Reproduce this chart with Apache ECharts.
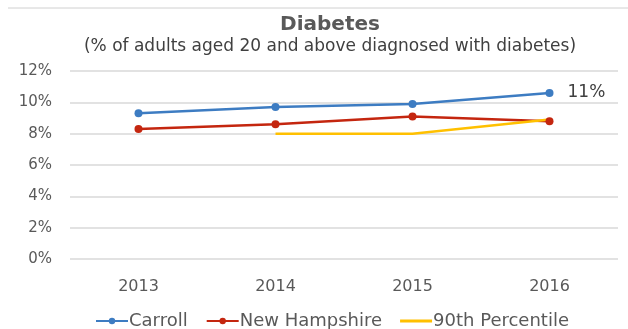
<!DOCTYPE html>
<html>
<head>
<meta charset="utf-8">
<script src="https://cdn.jsdelivr.net/npm/echarts@6/dist/echarts.min.js"></script>
<style>
    html, body { margin: 0; padding: 0; background: #fff; }
    #chart { width: 628px; height: 329px; }
</style>
</head>
<body>
<div id="chart"></div>
<script>
    // 数据
    const years = ['2013', '2014', '2015', '2016']
    const carroll = [9.3, 9.7, 9.9, 10.6]
    const newHampshire = [8.3, 8.6, 9.1, 8.8]
    const percentile90 = [null, 8.0, 8.0, 8.9]
    const yTicks = [0, 2, 4, 6, 8, 10, 12]

    const font = 'DejaVu Sans'
    const chart = echarts.init(document.getElementById('chart'))
    const option = {
        animation: false,
        textStyle: { fontFamily: font },
        title: {
            text: 'Diabetes',
            subtext: '(% of adults aged 20 and above diagnosed with diabetes)',
            left: 325,
            textAlign: 'center',
            top: 10,
            itemGap: 3,
            textStyle: { fontFamily: font, fontSize: 20, fontWeight: 'bold', color: '#595959' },
            subtextStyle: { fontFamily: font, fontSize: 17, color: '#404040' }
        },
        graphic: [
            {
                type: 'line',
                shape: { x1: 8, y1: 8, x2: 628, y2: 8 },
                style: { stroke: '#d0d0d0', lineWidth: 1 }
            }
        ],
        grid: { left: 70, right: 10, top: 71, bottom: 70 },
        legend: {
            bottom: -6,
            left: 90,
            itemWidth: 32,
            itemHeight: 8,
            itemGap: 18,
            textStyle: { fontFamily: font, fontSize: 18, color: '#595959', padding: [0, 0, 0, -4] },
            data: [
                'Carroll',
                'New Hampshire',
                { name: '90th Percentile', icon: 'path://M0,0 L32,0 L32,3 L0,3 Z' }
            ]
        },
        xAxis: {
            type: 'category',
            data: years,
            boundaryGap: true,
            axisLine: { show: false },
            axisTick: { show: false },
            axisLabel: { fontFamily: font, fontSize: 16, color: '#595959', margin: 20 }
        },
        yAxis: {
            type: 'value',
            min: yTicks[0],
            max: yTicks[yTicks.length - 1],
            interval: 2,
            axisLine: { show: false },
            axisTick: { show: false },
            splitLine: { lineStyle: { color: '#d9d9d9', width: 1.5 } },
            axisLabel: { fontFamily: font, fontSize: 15, color: '#595959', margin: 18, formatter: '{value}%' }
        },
        series: [
            {
                name: 'Carroll',
                type: 'line',
                data: carroll,
                symbol: 'circle',
                symbolSize: 8,
                itemStyle: { color: '#3d7cc2' },
                lineStyle: { width: 2.5, color: '#3d7cc2' },
                label: {
                    show: true,
                    position: 'right',
                    distance: 14,
                    fontFamily: font,
                    fontSize: 17,
                    color: '#404040',
                    formatter: p => p.dataIndex === years.length - 1 ? Math.round(p.value) + '%' : ''
                }
            },
            {
                name: 'New Hampshire',
                type: 'line',
                data: newHampshire,
                symbol: 'circle',
                symbolSize: 8,
                itemStyle: { color: '#c4260f' },
                lineStyle: { width: 2.5, color: '#c4260f' }
            },
            {
                name: '90th Percentile',
                type: 'line',
                data: percentile90,
                symbol: 'none',
                itemStyle: { color: '#ffc000' },
                lineStyle: { width: 2.5, color: '#ffc000' }
            }
        ]
    }
    chart.setOption(option)
</script>
</body>
</html>
